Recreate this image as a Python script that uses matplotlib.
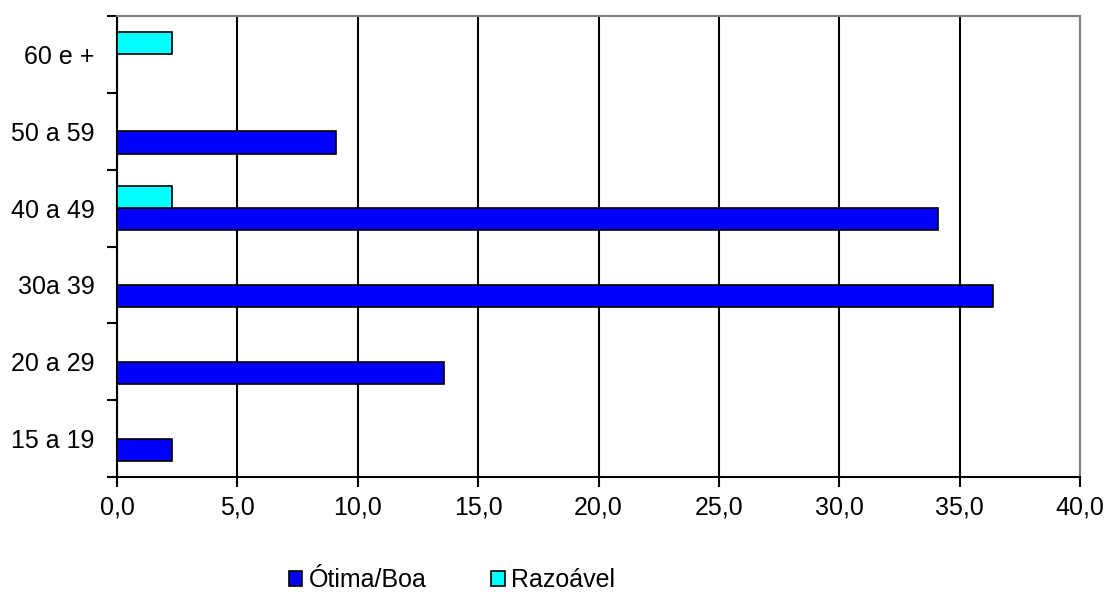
import numpy as np
import matplotlib.pyplot as plt
from matplotlib.patches import Patch

plt.rcParams['font.family'] = ['Liberation Sans', 'DejaVu Sans']

faixas = ['15 a 19', '20 a 29', '30a 39', '40 a 49', '50 a 59', '60 e +']
otima_boa = [2.3, 13.6, 36.4, 34.1, 9.1, 0.0]
razoavel = [0.0, 0.0, 0.0, 2.3, 0.0, 2.3]
xticks = [0, 5, 10, 15, 20, 25, 30, 35, 40]

azul = '#0000FF'
ciano = '#00FFFF'

fig = plt.figure(figsize=(11.09, 5.95), dpi=100)
ax = fig.add_axes([117 / 1109, 1 - 477 / 595, (1080 - 117) / 1109, (477 - 16) / 595])

y = np.arange(len(faixas))
h = 0.29
b1 = ax.barh(y - h / 2, otima_boa, height=h, color=azul, edgecolor='black', linewidth=1.2, zorder=3)
b2 = ax.barh(y + h / 2, razoavel, height=h, color=ciano, edgecolor='black', linewidth=1.2, zorder=3)
# zero values: no bar drawn
for bars, vals in ((b1, otima_boa), (b2, razoavel)):
    for bar, v in zip(bars, vals):
        if v == 0:
            bar.set_visible(False)

ax.set_xlim(0, 40)
ax.set_ylim(-0.5, len(faixas) - 0.5)
ax.set_xticks(xticks)
ax.set_xticklabels([('%.1f' % t).replace('.', ',') for t in xticks], fontsize=18)
ax.set_yticks(y)
ax.set_yticklabels(faixas, fontsize=18)
ax.set_yticks(np.arange(-0.5, len(faixas)), minor=True)
ax.tick_params(axis='y', which='major', length=0, pad=16)
ax.tick_params(axis='y', which='minor', length=7, width=1.5, direction='out')
ax.tick_params(axis='x', length=7, width=1.5, direction='out', pad=6)
ax.grid(axis='x', color='black', linewidth=1.5, zorder=0)

for s in ('top', 'right'):
    ax.spines[s].set_color('#808080')
    ax.spines[s].set_linewidth(1.5)
for s in ('left', 'bottom'):
    ax.spines[s].set_color('black')
    ax.spines[s].set_linewidth(1.5)

handles = [Patch(facecolor=azul, edgecolor='black', linewidth=1.2, label='Ótima/Boa'),
           Patch(facecolor=ciano, edgecolor='black', linewidth=1.2, label='Razoável')]
fig.legend(handles=handles, loc='center', bbox_to_anchor=(452 / 1109, 1 - 580 / 595),
           ncol=2, frameon=False, fontsize=18, handlelength=0.55, handleheight=0.55,
           handletextpad=0.25, columnspacing=2.6)

fig.savefig('out.png', dpi=100)
